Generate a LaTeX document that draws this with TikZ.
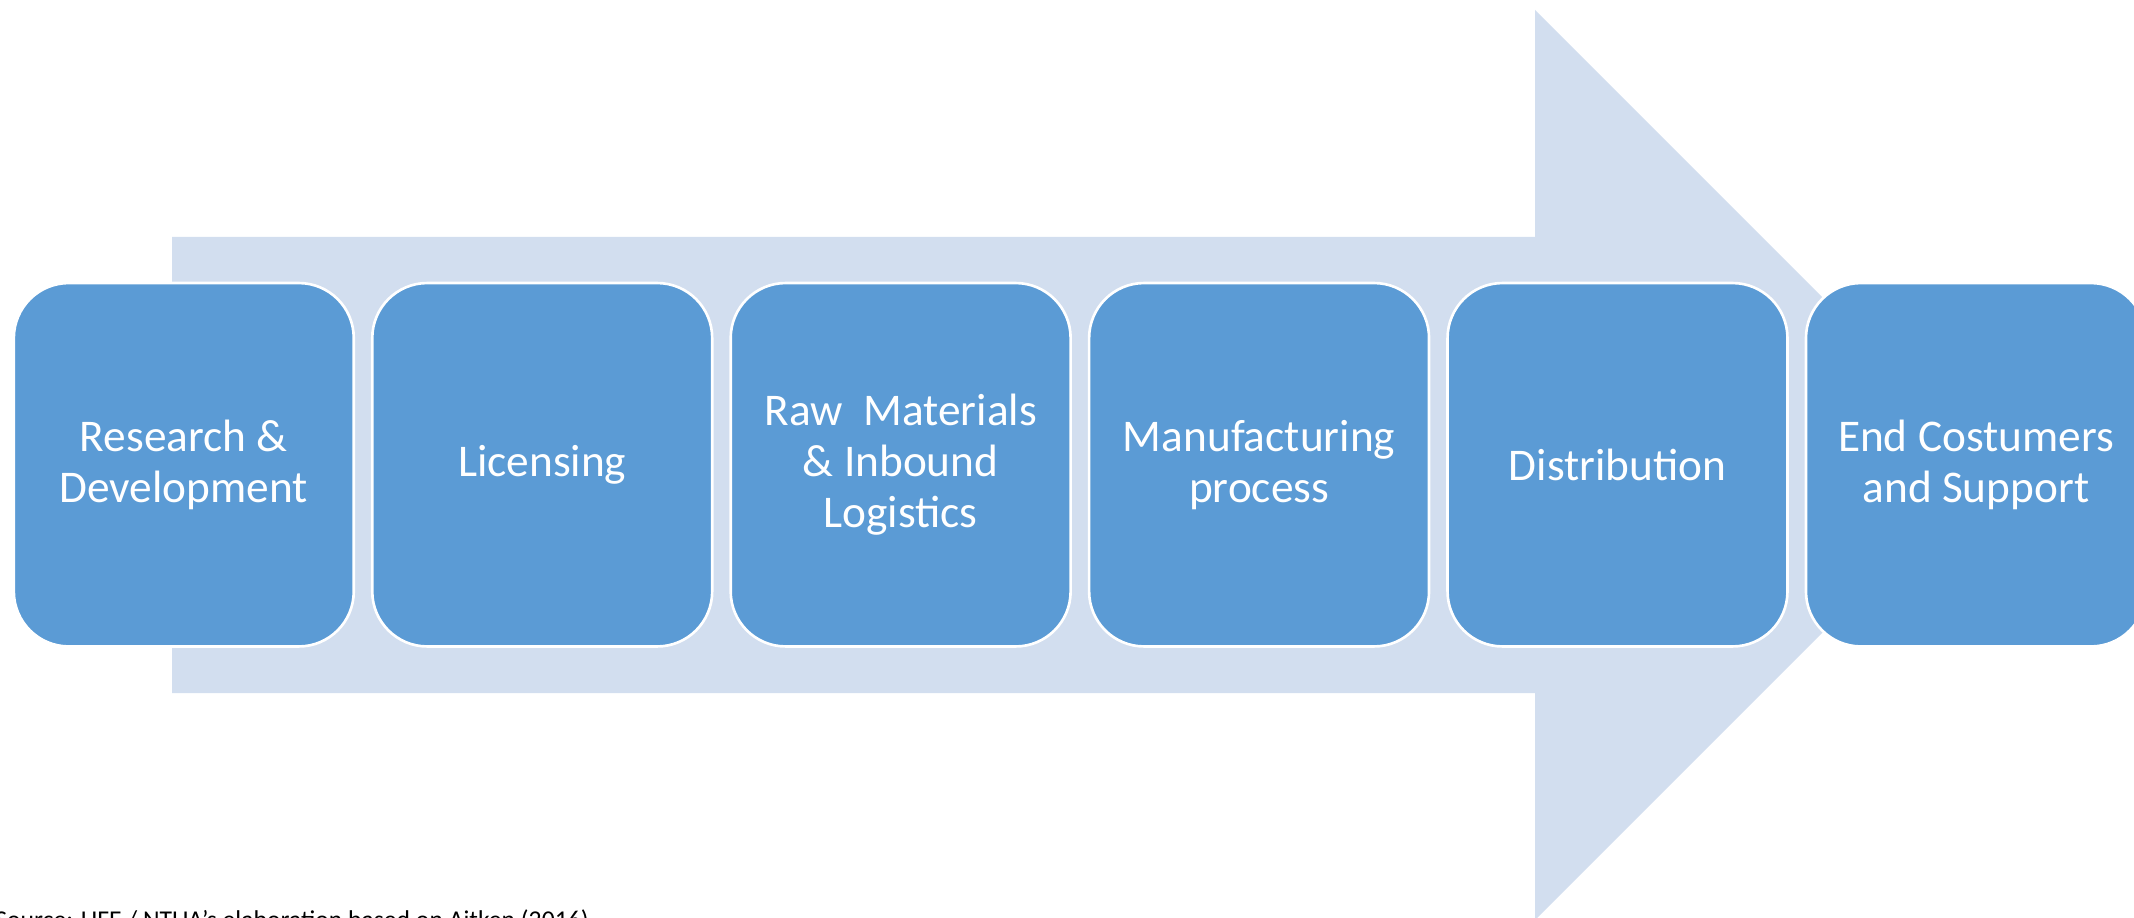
\documentclass[tikz,border=0pt]{standalone}
\usepackage{fontspec}
\setmainfont{Carlito}
\usetikzlibrary{positioning}

\definecolor{stageblue}{HTML}{5B9BD5}
\definecolor{arrowfill}{HTML}{D2DEEF}

\tikzset{
  stage/.style={rectangle, rounded corners=1.1cm, fill=stageblue, draw=white,
    line width=1.5pt, minimum width=6.8cm, minimum height=7.27cm,
    inner sep=0pt, outer sep=0pt, text=white, align=center,
    font=\fontsize{25.8}{29}\selectfont},
  source/.style={anchor=base west, inner sep=0pt, font=\fontsize{14.6}{17}\selectfont}
}

\begin{document}
\begin{tikzpicture}[x=0.02cm, y=0.02cm, node distance=0.37cm]

  \useasboundingbox (0,0) rectangle (2134,917);
  \clip (0,0) rectangle (2134,917);

  % background arrow
  \fill [arrowfill] (172,680) -- (1535,680) -- (1535,907) -- (1990,452)
    -- (1535,-3) -- (1535,224) -- (172,224) -- cycle;

  \node (rd) [stage] at (183.8,452.25) {Research \&\\Development};
  \node (lic) [stage, right=of rd] {Licensing};
  \node (raw) [stage, right=of lic] {Raw\ \ Materials\\\& Inbound\\Logistics};
  \node (manu) [stage, right=of raw] {Manufacturing\\process};
  \node (dist) [stage, right=of manu] {Distribution};
  \node (endc) [stage, right=of dist] {End Costumers\\and Support};

  \node (src) [source] at (-5,-11) {Source: UFE / NTUA's elaboration based on Aitken (2016)};

\end{tikzpicture}
\end{document}
